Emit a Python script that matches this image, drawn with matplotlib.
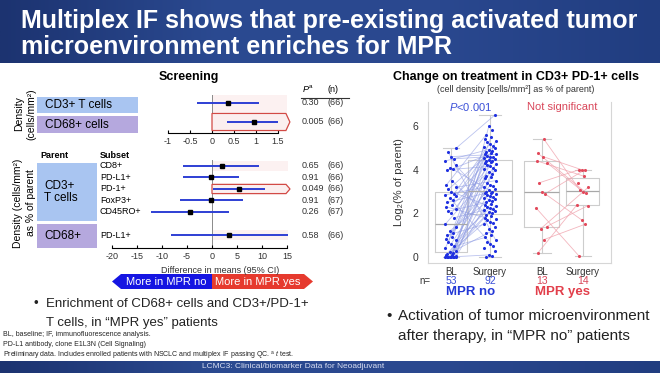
import numpy as np
import matplotlib
matplotlib.use('Agg')
import matplotlib.pyplot as plt
import matplotlib.transforms as mtransforms
from matplotlib.patches import Polygon, Rectangle
from matplotlib.colors import LinearSegmentedColormap

plt.rcParams['font.family'] = ['Liberation Sans', 'DejaVu Sans']
plt.rcParams['mathtext.fontset'] = 'custom'
plt.rcParams['mathtext.rm'] = 'Liberation Sans'
plt.rcParams['mathtext.it'] = 'Liberation Sans:italic'
plt.rcParams['mathtext.bf'] = 'Liberation Sans:bold'
plt.rcParams['axes.unicode_minus'] = False

# forest plot: density rows
dens_rows = ['CD3+ T cells', 'CD68+ cells']
dens_est = [0.37, 0.95]
dens_lo = [-0.33, 0.33]
dens_hi = [1.07, 1.50]
dens_p = ['0.30', '0.005']
dens_n = ['(66)', '(66)']
dens_sig = [False, True]

# forest plot: % of parent rows
sub_rows = ['CD8+', 'PD-L1+', 'PD-1+', 'FoxP3+', 'CD45RO+', 'PD-L1+']
sub_pos = [0, 1, 2, 3, 4, 6]
sub_est = [2.0, -0.2, 5.4, -0.2, -4.5, 3.4]
sub_lo = [-5.8, -5.8, 0.1, -6.4, -12.2, -8.2]
sub_hi = [9.4, 5.4, 10.6, 6.2, 3.4, 15.2]
sub_p = ['0.65', '0.91', '0.049', '0.91', '0.26', '0.58']
sub_n = ['(66)', '(66)', '(66)', '(67)', '(67)', '(66)']
sub_sig = [False, False, True, False, False, False]

# change on treatment, log2(% of parent)
groups = ['BL', 'Surgery', 'BL', 'Surgery']
group_n = ['53', '92', '13', '14']
mpr_no_bl = [0, 0, 0, 0, 0, 0, 0, 0, 0.05, 0.1, 0.1, 0.15, 0.2, 0.25, 0.3, 0.4,
             0.5, 0.6, 0.7, 0.8, 0.85, 0.9, 1.0, 1.1, 1.2, 1.4, 1.5, 1.8, 2.0, 2.1,
             2.2, 2.3, 2.4, 2.5, 2.6, 2.7, 2.8, 2.85, 2.9, 3.0, 3.1, 3.2, 3.3, 3.5,
             4.0, 4.05, 4.1, 4.2, 4.4, 4.5, 4.6, 4.8, 5.0]
mpr_no_sur = [0, 0.05, 0.1, 0.3, 0.4, 0.5, 0.6, 0.7, 0.8, 0.9, 1.0, 1.1, 1.2, 1.3,
              1.4, 1.5, 1.55, 1.6, 1.7, 1.75, 1.8, 1.9, 1.95,
              2.0, 2.05, 2.1, 2.15, 2.2, 2.25, 2.3, 2.35, 2.4, 2.45, 2.5, 2.55, 2.6,
              2.65, 2.7, 2.75, 2.8, 2.85, 2.9, 2.92, 2.95, 2.98, 3.0,
              3.05, 3.1, 3.2, 3.25, 3.3, 3.4, 3.5, 3.6, 3.65, 3.7, 3.8, 3.9, 4.0,
              4.05, 4.1, 4.15, 4.2, 4.25, 4.3, 4.35, 4.4, 4.42, 4.45,
              4.5, 4.55, 4.6, 4.6, 4.65, 4.7, 4.7, 4.75, 4.8, 4.85, 4.9, 5.0, 5.05,
              5.1, 5.2, 5.25, 5.3, 5.4, 5.5, 5.6, 5.8, 6.0, 6.5]
mpr_yes_bl = [0.2, 0.8, 1.3, 1.4, 2.25, 2.9, 3.0, 3.4, 4.3, 4.4, 4.6, 4.75, 5.4]
mpr_yes_sur = [0.05, 1.5, 1.7, 2.35, 2.4, 2.95, 3.0, 3.05, 3.2, 3.4, 3.7, 4.0, 4.0, 4.0]
# surgery index matched to each baseline value (paired patients)
pair_no = [2, 40, 71, 55, 18, 63, 85, 30, 47, 12, 77, 36, 58, 24, 90, 66, 9, 50, 81, 28,
           44, 73, 15, 60, 38, 87, 53, 26, 69, 33, 79, 20, 57, 42, 75, 5, 64, 48, 83, 31,
           70, 52, 88, 22, 61, 76, 45, 35, 80, 72, 74, 8, 91]
pair_yes = [4, 1, 8, 3, 0, 12, 2, 11, 6, 10, 13, 5, 7]

W, H = 660, 373
fig = plt.figure(figsize=(6.6, 3.73), dpi=100)


def box(x0, y0, x1, y1):
    return [x0 / W, 1 - y1 / H, (x1 - x0) / W, (y1 - y0) / H]


bg = fig.add_axes([0, 0, 1, 1])
bg.axis('off')
banner = LinearSegmentedColormap.from_list('banner', ['#1c3370', '#2b4a91', '#2a488f', '#213d80'])
grad = np.linspace(0, 1, 256).reshape(1, -1)
bg.imshow(grad, extent=(0, W, 63, 0), aspect='auto', cmap=banner, zorder=0)
bg.imshow(grad, extent=(0, W, H, 361), aspect='auto', cmap=banner, zorder=0)
bg.set_xlim(0, W)
bg.set_ylim(H, 0)

bg.text(21, 28, 'Multiplex IF shows that pre-existing activated tumor', color='white',
        fontsize=18, fontweight='bold', va='baseline')
bg.text(21, 54, 'microenvironment enriches for MPR', color='white',
        fontsize=18, fontweight='bold', va='baseline')
bg.text(293, 367, 'LCMC3: Clinical/biomarker Data for Neoadjuvant', color='#d8def2',
        fontsize=6, ha='center', va='center')

blue = '#2e3fd4'
red_edge = '#d24a45'


def flag(ax, y, x_end, tip, half):
    pts = [(0, y - half), (x_end, y - half), (tip, y), (x_end, y + half), (0, y + half)]
    ax.add_patch(Polygon(pts, closed=True, fc='#fbefef', ec=red_edge, lw=0.9, zorder=2))


# ---- top forest panel
bg.text(189, 77, 'Screening', fontsize=9, fontweight='bold', ha='center', va='center')
ax1 = fig.add_axes(box(160, 95, 292, 133))
ax1.patch.set_visible(False)
y1 = np.arange(len(dens_rows))
ax1.axvline(0, color='#8a8a8a', lw=0.7, zorder=1)
for y, est, sig in zip(y1, dens_est, dens_sig):
    if sig:
        flag(ax1, y, 1.68, 1.77, 0.45)
    elif est > 0:
        ax1.add_patch(Rectangle((0, y - 0.45), 1.7, 0.9, fc='#fcf1f1', ec='none', zorder=0.5))
ax1.hlines(y1, dens_lo, dens_hi, color=blue, lw=1.4, zorder=3)
ax1.plot(dens_est, y1, 's', color='black', ms=3, zorder=4)
ax1.set_xlim(-52 / 44, 80 / 44)
ax1.set_ylim(1.58, -0.42)
for s in ['top', 'right', 'left']:
    ax1.spines[s].set_visible(False)
ax1.spines['bottom'].set_bounds(-1, 1.5)
ax1.spines['bottom'].set_linewidth(0.8)
ax1.set_yticks([])
ax1.set_xticks([-1, -0.5, 0, 0.5, 1, 1.5], ['-1', '-0.5', '0', '0.5', '1', '1.5'])
ax1.tick_params(axis='x', direction='in', length=2.5, labelsize=6.5, pad=3, labelcolor='#333333')

# ---- bottom forest panel
ax2 = fig.add_axes(box(100, 160, 300, 248))
ax2.patch.set_visible(False)
ax2.axvline(0, color='#8a8a8a', lw=0.7, zorder=1)
for y, est, sig in zip(sub_pos, sub_est, sub_sig):
    if sig:
        flag(ax2, y, 14.8, 15.6, 0.4)
    elif est > 0:
        ax2.add_patch(Rectangle((0, y - 0.4), 15.2, 0.8, fc='#fcf1f1', ec='none', zorder=0.5))
ax2.hlines(sub_pos, sub_lo, sub_hi, color=blue, lw=1.4, zorder=3)
ax2.plot(sub_est, sub_pos, 's', color='black', ms=3, zorder=4)
ax2.set_xlim(-22.4, 17.6)
ax2.set_ylim(7.13, -0.52)
for s in ['top', 'right', 'left']:
    ax2.spines[s].set_visible(False)
ax2.spines['bottom'].set_bounds(-20, 15)
ax2.spines['bottom'].set_linewidth(0.8)
ax2.set_yticks([])
ax2.set_xticks(range(-20, 16, 5))
ax2.tick_params(axis='x', direction='in', length=2.5, labelsize=6.5, pad=3, labelcolor='#333333')
ax2.set_xlabel('Difference in means (95% CI)', fontsize=6.5, color='#333333', labelpad=1)
ax2.xaxis.set_label_coords(0.6, -0.2)

# p-value / n columns
t1 = mtransforms.blended_transform_factory(bg.transData, ax1.transData)
t2 = mtransforms.blended_transform_factory(bg.transData, ax2.transData)
bg.text(302, 89, '$P^{\\mathrm{a}}$', fontsize=6.5, va='center')
bg.text(328, 89, '(n)', fontsize=6.5, va='center')
bg.plot([301, 349], [97.5, 97.5], color='#333333', lw=0.8)
for y, p, n in zip(y1, dens_p, dens_n):
    bg.text(302, y, p, transform=t1, fontsize=6.5, va='center', color='#333333')
    bg.text(327, y, n, transform=t1, fontsize=6.5, va='center', color='#333333')
for y, p, n in zip(sub_pos, sub_p, sub_n):
    bg.text(302, y, p, transform=t2, fontsize=6.5, va='center', color='#333333')
    bg.text(327, y, n, transform=t2, fontsize=6.5, va='center', color='#333333')

# left labels
bg.add_patch(Rectangle((37, 97), 101, 16, fc='#a9c5f1', ec='none'))
bg.add_patch(Rectangle((37, 116), 101, 17, fc='#b5a8de', ec='none'))
bg.text(45, 105, 'CD3+ T cells', fontsize=8.5, va='center')
bg.text(45, 124.5, 'CD68+ cells', fontsize=8.5, va='center')
bg.text(19, 114, 'Density', rotation=90, fontsize=7.5, ha='center', va='center')
bg.text(31, 114, '(cells/mm²)', rotation=90, fontsize=7.5, ha='center', va='center')

bg.text(40, 155, 'Parent', fontsize=6.5, fontweight='bold', va='center')
bg.text(100, 155, 'Subset', fontsize=6.5, fontweight='bold', va='center')
bg.add_patch(Rectangle((37, 163), 60, 58, fc='#a9c5f1', ec='none'))
bg.add_patch(Rectangle((37, 224), 60, 24, fc='#b5a8de', ec='none'))
bg.text(44, 192, 'CD3+\nT cells', fontsize=8.5, va='center', linespacing=1.1)
bg.text(44, 236, 'CD68+', fontsize=8.5, va='center')
bg.text(18, 203, 'Density (cells/mm²)', rotation=90, fontsize=7.5, ha='center', va='center')
bg.text(31, 203, 'as % of parent', rotation=90, fontsize=7.5, ha='center', va='center')
for y, name in zip(sub_pos, sub_rows):
    bg.text(100, y, name, transform=t2, fontsize=6.5, va='center')

# direction arrows
bg.add_patch(Polygon([(212, 274), (121, 274), (112, 281.5), (121, 289), (212, 289)],
                     closed=True, fc='#1515e2', ec='none'))
bg.add_patch(Polygon([(212, 274), (304, 274), (313, 281.5), (304, 289), (212, 289)],
                     closed=True, fc='#e63a2e', ec='none'))
bg.text(166, 282, 'More in MPR no', color='white', fontsize=8, ha='center', va='center')
bg.text(258, 282, 'More in MPR yes', color='white', fontsize=8, ha='center', va='center')

# ---- right panel
bg.text(516, 77, 'Change on treatment in CD3+ PD-1+ cells', fontsize=9, fontweight='bold',
        ha='center', va='center')
bg.text(516, 90, '(cell density [cells/mm²] as % of parent)', fontsize=6.5,
        ha='center', va='center', color='#333333')

ax3 = fig.add_axes(box(428, 102, 611, 263))
ax3.patch.set_visible(False)
positions = [0, 1, 2.33, 3.38]
data = [mpr_no_bl, mpr_no_sur, mpr_yes_bl, mpr_yes_sur]
gray = '#cdcdcd'
ax3.boxplot(data, positions=positions, widths=[0.8, 1.15, 0.9, 0.85], whis=(0, 100),
            showfliers=False, manage_ticks=False,
            boxprops=dict(color=gray, lw=0.8), whiskerprops=dict(color=gray, lw=0.8),
            capprops=dict(color=gray, lw=0.8), medianprops=dict(color='#a8a8a8', lw=0.9))

jit = np.array([-0.1, 0.05, -0.03, 0.12, -0.15, 0.08, 0.0, -0.07, 0.14, -0.12, 0.03])
xs = [positions[i] + np.resize(jit, len(d)) for i, d in enumerate(data)]

for i, j in enumerate(pair_no):
    ax3.plot([xs[0][i], xs[1][j]], [mpr_no_bl[i], mpr_no_sur[j]], color='#8e9be3',
             lw=0.6, alpha=0.6, zorder=2)
for i, j in enumerate(pair_yes):
    ax3.plot([xs[2][i], xs[3][j]], [mpr_yes_bl[i], mpr_yes_sur[j]], color='#f0a4ae',
             lw=0.6, alpha=0.8, zorder=2)

dot_blue = '#1f30e0'
dot_red = '#e24a5c'
for k, (x, d) in enumerate(zip(xs, data)):
    ax3.scatter(x, d, s=5, color=dot_blue if k < 2 else dot_red, lw=0, zorder=3)

ax3.set_xlim(-0.59, 4.10)
ax3.set_ylim(-0.27, 7.1)
ax3.spines['top'].set_visible(False)
for s in ['left', 'right', 'bottom']:
    ax3.spines[s].set_color('#d6d6d6')
    ax3.spines[s].set_linewidth(0.8)
ax3.set_yticks([0, 2, 4, 6])
ax3.set_xticks(positions, groups)
ax3.tick_params(axis='y', length=0, labelsize=7.5, pad=7, labelcolor='#333333')
ax3.tick_params(axis='x', length=0, labelsize=7, pad=3, labelcolor='#333333')
ax3.set_ylabel('Log₂(% of parent)', fontsize=8, labelpad=6, color='#333333')
ax3.text(0.5, 6.85, '$P$<0.001', color='#3a4fd8', fontsize=8, ha='center', va='center')
ax3.text(2.86, 6.85, 'Not significant', color='#d9475a', fontsize=8, ha='center', va='center')

t3 = mtransforms.blended_transform_factory(ax3.transData, bg.transData)
bg.text(425, 281, 'n=', fontsize=7, ha='center', va='center', color='#333333')
for k, (p, n) in enumerate(zip(positions, group_n)):
    bg.text(p, 281, n, transform=t3, fontsize=7.5, ha='center', va='center',
            color='#3a4fd8' if k < 2 else '#d9475a')
bg.text(0.5, 292, 'MPR no', transform=t3, fontsize=9.5, fontweight='bold', ha='center',
        va='center', color='#2438d6')
bg.text(2.86, 292, 'MPR yes', transform=t3, fontsize=9.5, fontweight='bold', ha='center',
        va='center', color='#e23f4b')

# bullets
bg.text(34, 304, '•', fontsize=9.5, va='center', color='#222222')
bg.text(46, 304, 'Enrichment of CD68+ cells and CD3+/PD-1+', fontsize=9.5, va='center', color='#222222')
bg.text(46, 323, 'T cells, in “MPR yes” patients', fontsize=9.5, va='center', color='#222222')
bg.text(386, 316, '•', fontsize=11, va='center', color='#222222')
bg.text(398, 316, 'Activation of tumor microenvironment', fontsize=11, va='center', color='#222222')
bg.text(398, 336, 'after therapy, in “MPR no” patients', fontsize=11, va='center', color='#222222')

# footnotes
bg.text(3, 334, 'BL, baseline; IF, immunofluorescence analysis.', fontsize=5.0, va='center', color='#222222')
bg.text(3, 345, 'PD-L1 antibody, clone E1L3N (Cell Signaling)', fontsize=5.0, va='center', color='#222222')
bg.text(3, 356, 'Preliminary data. Includes enrolled patients with NSCLC and multiplex IF passing QC. '
        '$^{\\mathrm{a}}$ $t$ test.', fontsize=5.0, va='center', color='#222222')

fig.savefig('out.png', dpi=100)
